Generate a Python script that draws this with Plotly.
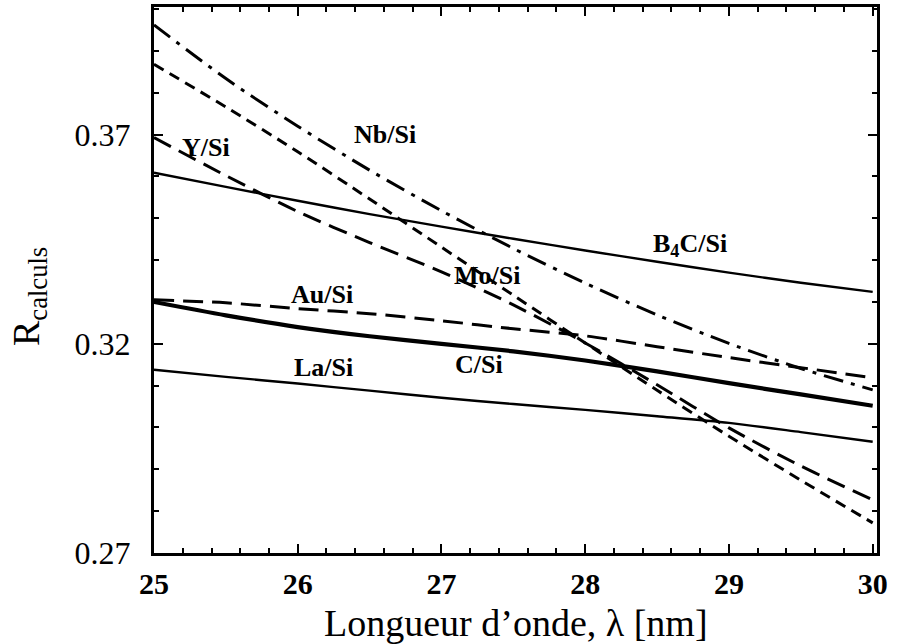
import plotly.graph_objects as go

# Wavelength grid [nm]
wavelength = [25.0, 25.5, 26.0, 26.5, 27.0, 27.5, 28.0, 28.5, 29.0, 29.5, 30.0]

# Calculated reflectivity for each multilayer
r_b4c_si = [0.3609, 0.3575, 0.3542, 0.3510, 0.3480, 0.3451, 0.3423, 0.3396, 0.3370, 0.3346, 0.3324]
r_nb_si = [0.3962, 0.3834, 0.3720, 0.3615, 0.3518, 0.3428, 0.3345, 0.3269, 0.3201, 0.3141, 0.3090]
r_mo_si = [0.3868, 0.3766, 0.3659, 0.3546, 0.3431, 0.3316, 0.3202, 0.3089, 0.2979, 0.2874, 0.2772]
r_y_si = [0.3693, 0.3602, 0.3516, 0.3442, 0.3372, 0.3293, 0.3202, 0.3102, 0.2999, 0.2908, 0.2827]
r_au_si = [0.3305, 0.3298, 0.3284, 0.3272, 0.3255, 0.3236, 0.3219, 0.3193, 0.3167, 0.3143, 0.3119]
r_c_si = [0.3300, 0.3268, 0.3240, 0.3218, 0.3200, 0.3182, 0.3160, 0.3134, 0.3106, 0.3079, 0.3052]
r_la_si = [0.3138, 0.3121, 0.3105, 0.3088, 0.3071, 0.3056, 0.3042, 0.3027, 0.3011, 0.2989, 0.2966]

# Curve labels and where they sit (data coordinates)
label_text = ["Nb/Si", "Y/Si", "B<sub>4</sub>C/Si", "Mo/Si", "Au/Si", "La/Si", "C/Si"]
label_x = [26.61, 25.36, 28.73, 27.32, 26.17, 26.18, 27.26]
label_y = [0.3700, 0.3669, 0.3437, 0.3363, 0.3317, 0.3143, 0.3150]

x_ticks = [25, 26, 27, 28, 29, 30]
y_ticks = [0.27, 0.32, 0.37]
y_tick_text = ["0.27", "0.32", "0.37"]

X_RANGE = [25, 30.03]
Y_RANGE = [0.27, 0.4005]

SERIF = "Liberation Serif, Times New Roman, serif"

series = [
    (r_b4c_si, "solid", 2.4),
    (r_nb_si, "20px,8px,4px,8px", 3),
    (r_mo_si, "11px,7px", 3),
    (r_y_si, "19px,9px", 3),
    (r_au_si, "20px,9px", 3),
    (r_c_si, "solid", 4.2),
    (r_la_si, "solid", 2.4),
]

fig = go.Figure()
for values, dash, width in series:
    fig.add_trace(go.Scatter(
        x=wavelength, y=values, mode="lines",
        line=dict(color="black", width=width, dash=dash, shape="spline", smoothing=0.8),
        showlegend=False, hoverinfo="skip",
    ))

# Invisible trace tying the top/right tick axes into the layout
fig.add_trace(go.Scatter(
    x=[X_RANGE[0]], y=[Y_RANGE[0]], xaxis="x2", yaxis="y2", mode="markers",
    marker=dict(opacity=0), showlegend=False, hoverinfo="skip",
))

for text, lx, ly in zip(label_text, label_x, label_y):
    fig.add_annotation(
        x=lx, y=ly, xref="x", yref="y", text=text, showarrow=False,
        font=dict(family=SERIF, size=26, color="black", weight="bold"),
        xanchor="center", yanchor="middle",
    )

# Axis titles
fig.add_annotation(
    x=0.5, y=-0.128, xref="paper", yref="paper",
    text="Longueur d\u2019onde, \u03bb [nm]", showarrow=False,
    font=dict(family=SERIF, size=38, color="black"),
    xanchor="center", yanchor="middle",
)
fig.add_annotation(
    x=-0.172, y=0.47, xref="paper", yref="paper",
    text="R<sub>calculs</sub>", showarrow=False, textangle=-90,
    font=dict(family=SERIF, size=38, color="black"),
    xanchor="center", yanchor="middle",
)

axis_common = dict(
    showline=True, linewidth=3, linecolor="black",
    ticks="inside", ticklen=9, tickwidth=2, tickcolor="black",
    showgrid=False, zeroline=False,
)
x_minor = dict(tick0=25, dtick=0.2, ticks="inside", ticklen=5, tickwidth=2,
               tickcolor="black", showgrid=False)
y_minor = dict(tick0=0.27, dtick=0.01, ticks="inside", ticklen=5, tickwidth=2,
               tickcolor="black", showgrid=False)

fig.update_layout(
    width=900, height=644,
    margin=dict(l=154, r=23, t=7, b=91),
    paper_bgcolor="white", plot_bgcolor="white",
    xaxis=dict(
        range=X_RANGE, tickvals=x_ticks,
        tickfont=dict(family=SERIF, size=30, color="black", weight="bold"),
        ticklabelstandoff=2, minor=x_minor, **axis_common,
    ),
    yaxis=dict(
        range=Y_RANGE, tickvals=y_ticks, ticktext=y_tick_text,
        tickfont=dict(family=SERIF, size=32, color="black"),
        ticklabelstandoff=14, minor=y_minor, **axis_common,
    ),
    xaxis2=dict(
        range=X_RANGE, tickvals=x_ticks, showticklabels=False,
        overlaying="x", side="top", anchor="y", minor=x_minor, **axis_common,
    ),
    yaxis2=dict(
        range=Y_RANGE, tickvals=y_ticks, showticklabels=False,
        overlaying="y", side="right", anchor="x", minor=y_minor, **axis_common,
    ),
)

fig.write_html("out.html")
